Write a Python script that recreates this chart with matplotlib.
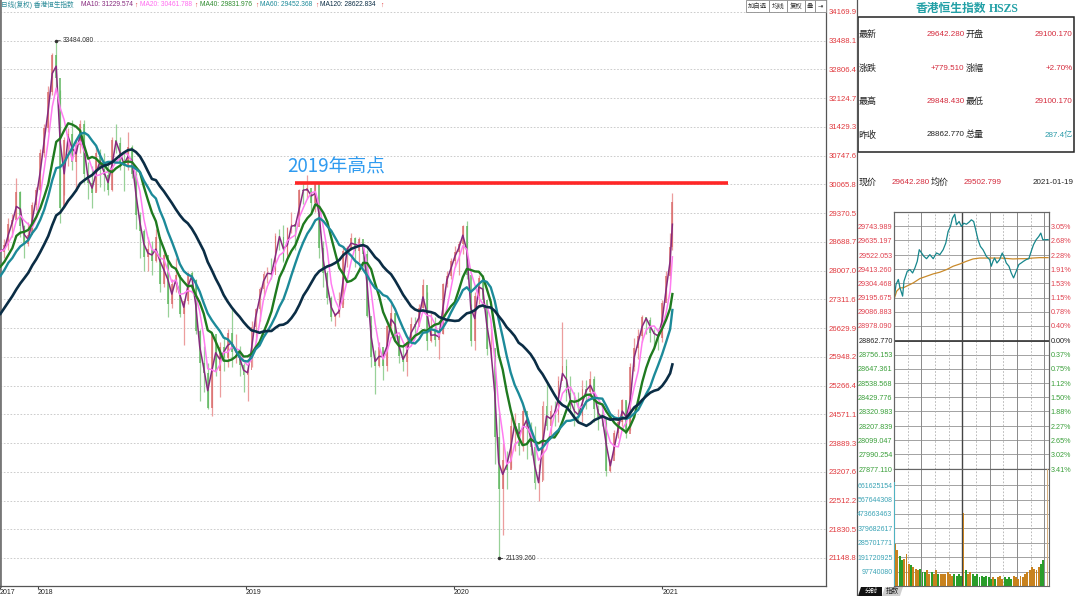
import numpy as np
import pandas as pd
import matplotlib
matplotlib.use("Agg")
import matplotlib.pyplot as plt
import matplotlib.dates as mdates
from matplotlib.patches import Rectangle, Polygon

plt.rcParams["font.family"] = ["Liberation Sans", "Noto Sans CJK SC", "DejaVu Sans"]

# ---------------- daily chart, one candle per week ----------------
# closes before the visible window, only used to seed the moving averages
warmup_close = [24476, 25156, 25174, 25639, 25924, 26030, 25626, 25670, 25765, 25341,
                26389, 26706, 26979, 27563, 26884, 27048, 27848, 27953, 27668, 27808,
                27881, 27554, 28458, 28476, 28487]

close = [
    # 2017 (from 27 Oct)
    28438, 28603, 29121, 29199, 29866, 29074, 28640, 28848, 29578, 29919,
    # 2018
    30815, 31413, 32255, 33154, 32602, 29507, 31115, 31267, 30583, 30996,
    31502, 30309, 30093, 29844, 30808, 30418, 30281, 29927, 31122, 31048,
    30588, 30493, 30958, 30309, 29338, 28955, 28316, 28525, 28224, 28804,
    27676, 28367, 27213, 27672, 27889, 26973, 27286, 27953, 27789, 26573,
    25801, 25561, 24717, 26486, 25601, 26184, 25927, 26507, 26063, 26095,
    25754, 25504,
    # 2019
    25626, 26667, 27090, 27569, 27931, 27946, 27901, 28816, 28812, 28228,
    29012, 29113, 29051, 29936, 29909, 29963, 29605, 30082, 28550, 27946,
    27354, 26901, 26965, 27118, 28473, 28543, 28775, 28472, 28765, 28398,
    26919, 25939, 25735, 26180, 25725, 26691, 27000, 26436, 25955, 25821,
    26308, 26720, 26667, 27100, 27651, 26327, 26595, 26346, 26498, 27688,
    27871, 28225,
    # 2020
    28452, 28638, 29056, 27909, 26313, 27404, 27816, 27308, 26130, 26146,
    24033, 22805, 23484, 23236, 24300, 24380, 23831, 24644, 24230, 23797,
    22930, 22961, 24770, 24301, 24644, 24550, 25373, 25727, 25090, 24705,
    24595, 24532, 25183, 25113, 25422, 24695, 24503, 24455, 23235, 23459,
    24119, 24387, 24919, 24107, 25712, 26157, 26451, 26894, 26835, 26506,
    26498, 26387,
    # 2021
    27231, 27878, 28574, 29642.28,
]

high = [
    28700, 28750, 29250, 29350, 30200, 29900, 29100, 29150, 29650, 30000,
    30900, 31500, 32400, 33200, 33484.08, 32300, 31200, 31400, 31600, 31100,
    31600, 31600, 30600, 30500, 31000, 30900, 30800, 30600, 31200, 31500,
    31200, 30800, 31300, 31000, 30400, 29400, 29000, 28800, 28700, 29000,
    28800, 28500, 28200, 27800, 28300, 27900, 27300, 27980, 28000, 27800,
    26600, 26200, 25800, 26500, 26300, 26300, 26400, 26600, 27100, 26500,
    26200, 25800,
    25700, 26800, 27100, 27600, 28000, 28100, 28300, 28900, 29000, 29100,
    29050, 29400, 29100, 29950, 30100, 30280, 29900, 30100, 29600, 28700,
    28000, 27400, 27000, 27500, 28600, 28600, 28900, 28800, 28800, 28500,
    28500, 26700, 26100, 26300, 26100, 26700, 27200, 27000, 26500, 26200,
    26400, 26900, 26900, 27200, 27800, 27500, 27000, 26900, 26600, 27700,
    28000, 28300,
    28600, 28700, 29100, 29174, 27200, 27500, 27900, 27900, 27200, 26700,
    26000, 24600, 23900, 23700, 24500, 24600, 24300, 24800, 24300, 24400,
    24300, 23400, 24900, 25300, 24800, 24900, 25500, 26782, 25900, 25500,
    25100, 25100, 25400, 25400, 25600, 25500, 24800, 24700, 24400, 23500,
    24200, 24700, 24950, 24900, 25800, 26400, 26600, 26950, 26900, 26900,
    26600, 26600,
    27300, 28000, 28900, 29848.43,
]

low = [
    28200, 28300, 28500, 28800, 29200, 28800, 28300, 28600, 28900, 29450,
    29900, 30700, 31300, 32200, 32300, 29129, 29800, 30500, 30400, 29900,
    30800, 30100, 29700, 29500, 29900, 30000, 29900, 29800, 29900, 30800,
    30400, 29900, 30400, 30200, 29000, 28300, 28000, 28000, 27900, 28200,
    27500, 27600, 26900, 27100, 27500, 26900, 26220, 27200, 27500, 26500,
    24900, 25100, 24700, 24540, 25500, 25000, 25600, 25700, 25700, 25800,
    25500, 25100,
    24896, 25700, 26300, 26800, 27400, 27700, 27800, 28000, 28500, 28200,
    28400, 28900, 28500, 29200, 29600, 29700, 29400, 29400, 28300, 27600,
    27200, 26800, 26670, 26900, 27200, 28100, 28500, 28100, 28200, 28100,
    26900, 25700, 25064, 25700, 25400, 25600, 26500, 26300, 25800, 25600,
    25500, 26300, 26500, 26700, 27100, 26100, 26300, 26200, 25900, 26500,
    27600, 27800,
    28100, 27900, 28400, 27800, 26200, 26100, 27200, 27100, 26000, 25900,
    23400, 21139.26, 21700, 22800, 23300, 23700, 23600, 23700, 23500, 23600,
    22800, 22500, 23000, 24200, 24000, 24300, 24400, 25500, 24900, 24600,
    24300, 24400, 24400, 24700, 25000, 24400, 24200, 24300, 23100, 23200,
    23600, 24000, 24300, 24000, 24200, 25600, 25900, 26300, 26500, 26300,
    26200, 26100,
    26300, 27300, 27800, 28500,
]

price_labels = ["34169.90", "33488.17", "32806.43", "32124.70", "31429.33", "30747.60",
                "30065.87", "29370.50", "28688.77", "28007.03", "27311.67", "26629.93",
                "25948.20", "25266.47", "24571.10", "23889.37", "23207.63", "22512.27",
                "21830.53", "21148.80"]
year_labels = ["2017", "2018", "2019", "2020", "2021"]
ma_names = ["MA10", "MA20", "MA40", "MA60", "MA120"]
ma_weeks = [2, 4, 8, 12, 24]
ma_header = ["MA10: 31229.574", "MA20: 30461.788", "MA40: 29831.976",
             "MA60: 29452.368", "MA120: 28622.834"]
level_2019 = 30090

# ---------------- quote panel ----------------
quote_left_labels = ["最新", "涨跌", "最高", "昨收"]
quote_left_values = ["29642.280", "+779.510", "29848.430", "28862.770"]
quote_right_labels = ["开盘", "涨幅", "最低", "总量"]
quote_right_values = ["29100.170", "+2.70%", "29100.170", "287.4亿"]
now_price = "29642.280"
avg_now = "29502.799"
quote_date = "2021-01-19"

# ---------------- intraday (minutes from 09:30, lunch removed) ----------------
tick_minutes = [0, 4.4, 9.5, 13.1, 18.9, 21.9, 29.1, 35, 40.8, 45.9, 51, 55.4, 60.5, 65.6,
                71.4, 78.7, 86, 93.2, 100.5, 107.8, 113.6, 118.7, 123.8, 128.2, 133.3,
                137, 142.8, 147.9, 153, 158.8, 164.6, 169.7, 174.8, 179.2, 184.3, 189.4,
                195.2, 198.9, 202.5, 206.2, 209.8, 213.4, 217.1, 220.7, 225.8, 231.7,
                237.5, 242.6, 246.2, 252.1, 257.2, 262.3, 268.1, 273.9, 279, 284.1, 290,
                295.8, 300.9, 306, 311.8, 317.6, 322, 326.4, 332.2, 338]
tick_price = [29182, 29296, 29335, 29271, 29207, 29322, 29398, 29411, 29385, 29424, 29475,
              29564, 29539, 29513, 29495, 29526, 29495, 29539, 29526, 29564, 29615, 29704,
              29743, 29806, 29837, 29756, 29781, 29743, 29768, 29760, 29776, 29794, 29781,
              29717, 29641, 29590, 29564, 29539, 29513, 29500, 29488, 29437, 29475, 29500,
              29462, 29488, 29539, 29500, 29462, 29437, 29385, 29347, 29398, 29450, 29462,
              29475, 29488, 29495, 29551, 29603, 29641, 29666, 29692, 29641, 29641, 29642]
avg_minutes = [0, 5.8, 13.1, 20.4, 27.7, 35, 42.3, 56.8, 71.4, 86, 100.5, 115.1, 129.7,
               144.2, 158.8, 173.4, 188, 210, 235, 260.8, 275.4, 290, 304.5, 319.1, 338]
avg_price = [29182, 29245, 29271, 29271, 29284, 29296, 29309, 29342, 29360, 29378, 29391,
             29411, 29437, 29454, 29475, 29493, 29500, 29500, 29500, 29493, 29495, 29495,
             29500, 29503, 29503]
prev_close = 28862.770
intraday_ticks = [29743.989, 29635.197, 29522.053, 29413.260, 29304.468, 29195.675,
                  29086.883, 28978.090, 28862.770, 28756.153, 28647.361, 28538.568,
                  28429.776, 28320.983, 28207.839, 28099.047, 27990.254, 27877.110]
pct_labels = ["3.05%", "2.68%", "2.28%", "1.91%", "1.53%", "1.15%", "0.78%", "0.40%",
              "0.00%", "0.37%", "0.75%", "1.12%", "1.50%", "1.88%", "2.27%", "2.65%",
              "3.02%", "3.41%"]
# per-minute volume (millions), one reading per 5-minute block
vol_5min = [275, 240, 200, 175, 180, 215, 145, 140, 125, 115,
            105, 115, 95, 95, 105, 85, 95, 85, 105, 80,
            85, 80, 85, 95, 80, 70, 80, 70, 80, 70,
            480, 105, 85, 95, 80, 70, 80, 60, 70, 60,
            70, 60, 50, 60, 50, 60, 70, 50, 60, 50,
            60, 50, 70, 60, 50, 70, 60, 80, 95, 105,
            125, 115, 105, 125, 145, 175]
open_auction_vol = 680
close_auction_vol = 780
vol_ticks = [661625154, 567644308, 473663463, 379682617, 285701771, 191720925, 97740080]

# ---------------- figure ----------------
W, H = 1080, 596
fig = plt.figure(figsize=(W / 100, H / 100), dpi=100)


def px_axes(x0, y0, x1, y1):
    return fig.add_axes([x0 / W, 1 - y1 / H, (x1 - x0) / W, (y1 - y0) / H])


def ftext(x, y, s, **kw):
    return fig.text(x / W, 1 - y / H, s, va="center", **kw)


ax = px_axes(0, 0, 826, 586)
dates = list(pd.date_range("2017-10-27", periods=len(close) - 1, freq="W-FRI")) + [pd.Timestamp("2021-01-19")]
xd = mdates.date2num(dates)
c = np.array(close, float)
h = np.array(high, float)
l = np.array(low, float)
o = np.r_[warmup_close[-1], c[:-1]]
up = c >= o

t0 = mdates.date2num(pd.Timestamp("2018-01-01"))
px_day = 208 / 365.25
x_left = t0 - 38 / px_day
ax.set_xlim(x_left, t0 + (826 - 38) / px_day)

y_top, y_bot = float(price_labels[0]), float(price_labels[-1])
per_px = (y_top - y_bot) / (558 - 12)
ax.set_ylim(y_bot - (586 - 558) * per_px, y_top + 12 * per_px)
grid_pos = np.linspace(y_top, y_bot, len(price_labels))

wick_col = ["#ec9d9d" if u else "#98d198" for u in up]
body_col = ["#d96a6a" if u else "#5bb55b" for u in up]
ax.vlines(xd, l, h, colors=wick_col, lw=0.9, zorder=2)
ax.bar(xd, np.maximum(np.abs(c - o), 20), bottom=np.minimum(o, c), width=3.2,
       color=body_col, alpha=0.75, zorder=2)

full = pd.Series(np.r_[warmup_close, c])
n0 = len(warmup_close)
ma_colors = ["#872a7e", "#ff7cf0", "#1f7a1f", "#1c8a99", "#0b2d45"]
ma_widths = [1.1, 1.1, 1.7, 1.7, 1.9]
for name, win, col, lw in zip(ma_names, ma_weeks, ma_colors, ma_widths):
    ma = full.rolling(win).mean().to_numpy()[n0:]
    ax.plot(xd, ma, color=col, lw=lw, zorder=3)

ax.yaxis.tick_right()
ax.set_yticks(grid_pos)
ax.set_yticklabels(price_labels)
ax.tick_params(axis="y", length=0, pad=2, labelsize=5.6, labelcolor="#e0393e")
ax.grid(axis="y", color="#c4c4c4", ls=(0, (2, 2)), lw=0.6)

year_pos = [x_left] + [mdates.date2num(pd.Timestamp(f"{y}-01-01")) for y in year_labels[1:]]
ax.set_xticks(year_pos)
ax.set_xticklabels(year_labels, ha="left", fontsize=5.0, color="#222")
ax.tick_params(axis="x", length=2, pad=0.5, color="#444")
ax.spines["top"].set_visible(False)
ax.spines["left"].set_color("#777")
ax.spines["left"].set_linewidth(2)
for s in ("right", "bottom"):
    ax.spines[s].set_color("#555")
    ax.spines[s].set_linewidth(0.9)

# max / min markers
i_hi, i_lo = int(np.argmax(h)), int(np.argmin(l))
for i, v in ((i_hi, h[i_hi]), (i_lo, l[i_lo])):
    ax.plot(xd[i], v, "o", ms=1.5, color="#333", zorder=4)
    ax.annotate(f"{v:.3f}", xy=(xd[i], v), xytext=(5, 0), textcoords="offset points",
                va="center", fontsize=4.8, color="#333",
                arrowprops=dict(arrowstyle="-", color="#333", lw=0.6, shrinkA=0, shrinkB=0))

# 2019 high line
ax.plot([t0 + (295 - 38) / px_day, t0 + (728 - 38) / px_day], [level_2019, level_2019],
        color="#ff2626", lw=2.6, zorder=5, solid_capstyle="butt")
ax.text(t0 + (287 - 38) / px_day, y_top - (166 - 12) * per_px, "2019年高点",
        family=["Noto Sans CJK SC"], fontsize=13.5, color="#2f9bf0", va="center", zorder=5)

# header line
ftext(1, 5, "日线(复权) 香港恒生指数", fontsize=4.8, color="#2c8c99")
head_x = [81, 140, 200, 260, 320]
arrow_x = [134, 194, 255, 315, 380]
head_cols = ["#872a7e", "#ff6cf0", "#2e8b2e", "#1c8a99", "#0b2d45"]
for hx, axx, txt, col in zip(head_x, arrow_x, ma_header, head_cols):
    ftext(hx, 5, txt, fontsize=4.8, color=col)
    ftext(axx, 5, "↑", fontsize=4.8, color="#e03030")

# toolbar buttons
for bx0, bx1, lab in ((746, 769, "加自选"), (769, 787, "均线"), (787, 805, "复权"),
                      (805, 815, "叠"), (815, 826, "⇥")):
    fig.add_artist(Rectangle((bx0 / W, 1 - 12 / H), (bx1 - bx0) / W, 12 / H,
                             transform=fig.transFigure, fill=True, fc="white", ec="#8a8a8a", lw=0.6))
    ftext((bx0 + bx1) / 2, 6, lab, fontsize=4.6, color="#333", ha="center")

# ---------------- right panel ----------------
rp = px_axes(856, 0, 1080, 596)
rp.set_xlim(856, 1080)
rp.set_ylim(596, 0)
rp.set_xticks([])
rp.set_yticks([])
for s in rp.spines.values():
    s.set_visible(False)
rp.plot([856.6, 856.6], [0, 596], color="#555", lw=0.9)

rp.text(986, 8, "香港恒生指数", family=["Noto Sans CJK SC"], fontweight="bold",
        fontsize=8.5, color="#22a0a6", ha="right", va="center")
rp.text(989, 8.5, "HSZS", family=["Liberation Serif"], fontweight="bold",
        fontsize=8.5, color="#22a0a6", ha="left", va="center")
rp.add_patch(Rectangle((857.5, 17), 216, 135, fill=False, ec="#222", lw=1.1))
row_y = [34, 68, 101.5, 135]
red = "#d42a3c"
for ry, la, va_, lb, vb in zip(row_y, quote_left_labels, quote_left_values,
                              quote_right_labels, quote_right_values):
    rp.text(858.5, ry, la, fontsize=6.5, color="#222", va="center")
    rp.text(964.5, ry, va_, fontsize=5.8, color="#222" if la == "昨收" else red,
            ha="right", va="center")
    rp.text(966, ry, lb, fontsize=6.5, color="#222", va="center")
    rp.text(1072.5, ry, vb, fontsize=5.8, color="#2a9aa8" if lb == "总量" else red,
            ha="right", va="center")

rp.text(858.5, 182, "现价", fontsize=6.5, color="#222", va="center")
rp.text(929.5, 182, now_price, fontsize=5.8, color=red, ha="right", va="center")
rp.text(931, 182, "均价", fontsize=6.5, color="#222", va="center")
rp.text(1002, 182, avg_now, fontsize=5.8, color=red, ha="right", va="center")
rp.text(1074, 182, quote_date, fontsize=5.8, color="#222", ha="right", va="center")

rp.add_patch(Polygon([(858, 596), (861, 587), (882, 587), (882, 596)], closed=True, fc="#111", ec="none"))
rp.text(871, 591.5, "分时", fontsize=4.8, color="white", ha="center", va="center")
rp.add_patch(Polygon([(882, 596), (885, 587), (903, 587), (900, 596)], closed=True, fc="#cfcfcf", ec="none"))
rp.text(892, 591.5, "指数", fontsize=4.8, color="#222", ha="center", va="center")


def label_color(v):
    if abs(v - prev_close) < 1e-6:
        return "#222"
    return "#e0414f" if v > prev_close else "#3a9f3a"


solid_min = [60, 210, 270, 330]
dashed_min = [30, 90, 120, 180, 240, 300]

ip = px_axes(894, 212, 1049, 469)
ip.set_xlim(0, 340)
ip.set_ylim(intraday_ticks[-1], prev_close + (intraday_ticks[0] - prev_close) * 9 / 8)
ip.hlines(intraday_ticks, 0, 340, colors="#a2a2a2", lw=0.7, zorder=0)
ip.axhline(prev_close, color="#333", lw=1.2, zorder=1)
for m in solid_min:
    ip.axvline(m, color="#8a8a8a", lw=0.7, zorder=0)
for m in dashed_min:
    ip.axvline(m, color="#b0b0b0", lw=0.6, ls=(0, (2, 2)), zorder=0)
ip.axvline(150, color="#444", lw=1.0, zorder=1)
ip.plot(avg_minutes, avg_price, color="#c98a2b", lw=0.9, zorder=3)
ip.plot(tick_minutes, tick_price, color="#16868c", lw=0.9, zorder=4)
ip.set_xticks([])
ip.set_yticks(intraday_ticks)
ip.set_yticklabels([f"{v:.3f}" for v in intraday_ticks], fontsize=5.2)
ip.tick_params(axis="y", length=0, pad=1)
for lbl, v in zip(ip.get_yticklabels(), intraday_ticks):
    lbl.set_color(label_color(v))
ipr = ip.twinx()
ipr.set_ylim(ip.get_ylim())
ipr.set_yticks(intraday_ticks)
ipr.set_yticklabels(pct_labels, fontsize=5.2)
ipr.tick_params(axis="y", length=0, pad=1)
for lbl, v in zip(ipr.get_yticklabels(), intraday_ticks):
    lbl.set_color(label_color(v))
for a in (ip, ipr):
    for s in a.spines.values():
        s.set_color("#666")
        s.set_linewidth(0.8)

iv = px_axes(894, 469, 1049, 586)
iv.set_xlim(0, 340)
vol_base = (vol_ticks[-1] - (vol_ticks[-2] - vol_ticks[-1])) / 1e6
vol_step = (vol_ticks[-2] - vol_ticks[-1]) / 1e6
iv.set_ylim(vol_base, vol_base + (586 - 469) / 14.4 * vol_step)
vt = [v / 1e6 for v in vol_ticks]
iv.hlines(vt, 0, 340, colors="#a2a2a2", lw=0.7, zorder=0)
for m in solid_min:
    iv.axvline(m, color="#8a8a8a", lw=0.7, zorder=0)
for m in dashed_min:
    iv.axvline(m, color="#b0b0b0", lw=0.6, ls=(0, (2, 2)), zorder=0)
iv.axvline(150, color="#444", lw=1.0, zorder=0)
starts = np.arange(len(vol_5min)) * 5.0
p_start = np.interp(starts, tick_minutes, tick_price)
p_end = np.interp(starts + 5, tick_minutes, tick_price)
vcol = ["#c8821e" if e >= s else "#2a9d2a" for s, e in zip(p_start, p_end)]
iv.bar(starts + 2.5, np.array(vol_5min) - vol_base, bottom=vol_base, width=4.2,
       color=vcol, zorder=2)
iv.bar([0.6], [open_auction_vol - vol_base], bottom=vol_base, width=1.2, color="#4fb3c2", zorder=3)
iv.bar([337], [close_auction_vol - vol_base], bottom=vol_base, width=3.5, color="#d7b07e", zorder=3)
iv.set_xticks([])
iv.set_yticks(vt)
iv.set_yticklabels([str(v) for v in vol_ticks], fontsize=5.0, color="#3aa3b5")
iv.tick_params(axis="y", length=0, pad=1)
for s in iv.spines.values():
    s.set_color("#666")
    s.set_linewidth(0.8)

fig.savefig("out.png", dpi=100)
